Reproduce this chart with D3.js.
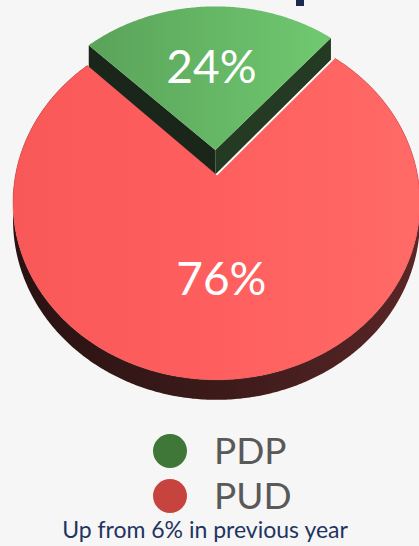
<!DOCTYPE html>
<html>
<head>
<meta charset="utf-8">
<script src="https://cdn.jsdelivr.net/npm/d3@7"></script>
<style>
body { margin: 0; background: #f6f6f6; }
svg { display: block; }
</style>
</head>
<body>
<div id="chart"></div>
<script>
// data
const parties = ["PDP", "PUD"];
const shares = [24, 76];
const sliceLabels = ["24%", "76%"];
const legendColors = ["#3e7738", "#c7443e"];
const footNote = "Up from 6% in previous year";

const width = 419, height = 546;

// tilted pie geometry (rough perspective fit)
const cx = 216.5, cy = 175, rx = 201, ry = 173, persp = 0.155;
const rot = -0.04;
const explode = [0.148, 0];
const thick = [25, 17];
const topFill = ["url(#greenTop)", "url(#redTop)"];

function proj(u, v, z) {
    let s = 1 / (1 - persp * v);
    return [cx + rx * u * s, cy + ry * v * s + z * s];
}

let svg = d3.select("#chart").append("svg")
    .attr("width", width)
    .attr("height", height);

svg.append("rect")
    .attr("width", width)
    .attr("height", height)
    .attr("fill", "#f6f6f6");

// bit of the title that sticks in from above
svg.append("rect")
    .attr("x", 296).attr("y", 0)
    .attr("width", 8).attr("height", 6)
    .attr("fill", "#1b2a4f");

let defs = svg.append("defs");
function grad(id, stops) {
    let g = defs.append("linearGradient").attr("id", id)
        .attr("x1", 0).attr("x2", 1).attr("y1", 0).attr("y2", 0);
    stops.forEach(function (s) {
        g.append("stop").attr("offset", s[0]).attr("stop-color", s[1]);
    });
}
grad("redTop", [[0, "#f95858"], [0.5, "#fe5f5e"], [1, "#ff6a67"]]);
grad("redSide", [[0, "#2a1212"], [0.5, "#3c1a1a"], [1, "#5a2626"]]);
grad("greenTop", [[0, "#5aa35a"], [1, "#70c970"]]);

let pie = d3.pie().sort(null)
    .startAngle(-Math.PI * shares[0] / d3.sum(shares) + rot)
    .endAngle(-Math.PI * shares[0] / d3.sum(shares) + rot + 2 * Math.PI);
let arcs = pie(shares);

let line = d3.line();

function offset(d, i) {
    let mid = (d.startAngle + d.endAngle) / 2;
    return [Math.sin(mid) * explode[i], -Math.cos(mid) * explode[i]];
}

function ring(d, i, z) {
    let o = offset(d, i);
    let n = Math.ceil((d.endAngle - d.startAngle) / 0.01);
    return d3.range(n + 1).map(function (k) {
        let a = d.startAngle + (d.endAngle - d.startAngle) * k / n;
        return proj(o[0] + Math.sin(a), o[1] - Math.cos(a), z);
    });
}

function edge(d, i, a, z) {
    let o = offset(d, i);
    return proj(o[0] + Math.sin(a), o[1] - Math.cos(a), z);
}

let g = svg.append("g");

// green (exploded back) slice: side walls then top
let dg = arcs[0];
let og = offset(dg, 0);
let c0 = proj(og[0], og[1], 0), c1 = proj(og[0], og[1], thick[0]);
g.append("path")
    .attr("d", line([c0, edge(dg, 0, dg.startAngle, 0), edge(dg, 0, dg.startAngle, thick[0]), c1]) + "Z")
    .attr("fill", "#1b261a");
g.append("path")
    .attr("d", line([c0, edge(dg, 0, dg.endAngle, 0), edge(dg, 0, dg.endAngle, thick[0]), c1]) + "Z")
    .attr("fill", "#243a22");
g.append("path")
    .attr("d", line([c0].concat(ring(dg, 0, 0))) + "Z")
    .attr("fill", topFill[0]);

// red slice: outer side then top
let dr = arcs[1];
g.append("path")
    .attr("d", line(ring(dr, 1, 0).concat(ring(dr, 1, thick[1]).reverse())) + "Z")
    .attr("fill", "url(#redSide)");
let or = offset(dr, 1);
let rc = proj(or[0], or[1], 0);
g.append("path")
    .attr("d", line([rc].concat(ring(dr, 1, 0))) + "Z")
    .attr("fill", topFill[1])
    .attr("stroke", "#e05050")
    .attr("stroke-width", 1)
    .attr("stroke-opacity", 0.5);

// light edge along the right side of the notch
g.append("path")
    .attr("d", line([rc, edge(dr, 1, dr.startAngle, 0)]))
    .attr("stroke", "#ffffff")
    .attr("stroke-width", 1.5)
    .attr("fill", "none");

// slice labels
g.selectAll("text.pct")
    .data(arcs)
    .enter().append("text")
    .attr("class", "pct")
    .attr("transform", function (d, i) {
        let o = offset(d, i);
        let mid = (d.startAngle + d.endAngle) / 2;
        let p = proj(o[0] + Math.sin(mid) * 0.55, o[1] - Math.cos(mid) * 0.55, 0);
        return "translate(" + p[0] + "," + p[1] + ")";
    })
    .attr("text-anchor", "middle")
    .attr("dy", "0.36em")
    .attr("font-family", "Lato, sans-serif")
    .attr("font-size", 46)
    .attr("fill", "#ffffff")
    .text(function (d, i) { return sliceLabels[i]; });

// legend
let legend = svg.append("g")
    .selectAll("g")
    .data(parties)
    .enter().append("g")
    .attr("transform", function (d, i) { return "translate(170," + (451 + i * 45) + ")"; });

legend.append("circle")
    .attr("r", 17)
    .attr("fill", function (d, i) { return legendColors[i]; });

legend.append("text")
    .attr("x", 44)
    .attr("dy", "0.36em")
    .attr("font-family", "Lato, sans-serif")
    .attr("font-size", 37)
    .attr("fill", "#595959")
    .text(function (d) { return d; });

svg.append("text")
    .attr("x", 205)
    .attr("y", 538)
    .attr("text-anchor", "middle")
    .attr("font-family", "Lato, sans-serif")
    .attr("font-size", 23)
    .attr("fill", "#1f3460")
    .text(footNote);
</script>
</body>
</html>
